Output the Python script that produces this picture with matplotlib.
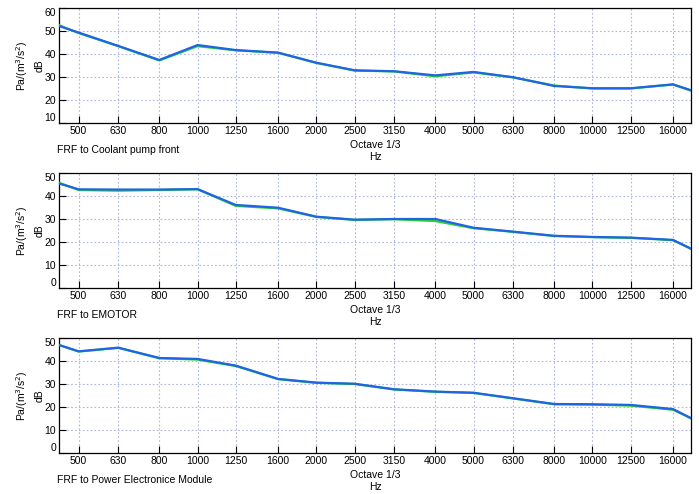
import matplotlib.pyplot as plt
from matplotlib.ticker import FixedLocator, NullLocator

# 1/3 octave bands (nominal) plus the lower/upper band edges of the plotted range
bands = [500, 630, 800, 1000, 1250, 1600, 2000, 2500, 3150, 4000, 5000,
         6300, 8000, 10000, 12500, 16000]
freq = [445] + bands + [17800]
band_labels = [str(b) for b in bands]

titles = ['FRF to Coolant pump front', 'FRF to EMOTOR', 'FRF to Power Electronice Module']

# blue = first curve, green = second curve (dB)
coolant_blue = [52.2, 49.3, 43.5, 37.4, 43.9, 41.7, 40.6, 36.2, 32.9, 32.5, 30.7,
                32.2, 29.9, 26.1, 25.1, 25.1, 26.8, 24.2]
coolant_green = [52.6, 49.1, 43.4, 37.2, 43.4, 41.6, 40.5, 36.1, 32.8, 32.4, 30.3,
                 32.0, 29.8, 26.3, 25.0, 25.0, 26.7, 24.0]
emotor_blue = [45.5, 42.9, 42.8, 42.8, 43.0, 36.1, 34.9, 31.0, 29.7, 30.0, 30.0,
               26.2, 24.5, 22.7, 22.2, 21.9, 20.9, 17.0]
emotor_green = [45.8, 42.6, 42.3, 42.6, 42.9, 35.7, 34.6, 30.9, 29.6, 29.9, 29.1,
                26.0, 24.4, 22.6, 22.1, 21.8, 20.8, 17.0]
pem_blue = [47.0, 44.2, 45.8, 41.3, 40.9, 38.0, 32.2, 30.6, 30.1, 27.7, 26.7,
            26.2, 23.8, 21.3, 21.2, 20.9, 19.1, 15.1]
pem_green = [47.0, 44.1, 45.7, 41.2, 40.6, 37.8, 32.1, 30.5, 30.0, 27.6, 26.6,
             26.1, 23.7, 21.2, 21.0, 20.6, 18.8, 15.0]

ylims = [(10, 60), (0, 50), (0, 50)]
yticks = [[10, 20, 30, 40, 50, 60], [0, 10, 20, 30, 40, 50], [0, 10, 20, 30, 40, 50]]
series = [(coolant_blue, coolant_green), (emotor_blue, emotor_green), (pem_blue, pem_green)]

plt.rcParams['font.family'] = ['Liberation Sans', 'DejaVu Sans']
plt.rcParams['font.size'] = 7.5

fig = plt.figure(figsize=(6.99, 4.94), dpi=100)
W, H = 699, 494
left, right = 58.7, 691.3
tops = [8, 173, 338]
ax_h = 115

for i in range(3):
    top = tops[i]
    ax = fig.add_axes([left / W, (H - top - ax_h) / H, (right - left) / W, ax_h / H])
    blue, green = series[i]
    ax.plot(freq, green, color='#2ad42a', lw=1.6, zorder=3)
    ax.plot(freq, blue, color='#1f63e6', lw=1.6, zorder=4)

    ax.set_xscale('log')
    ax.set_xlim(freq[0], freq[-1])
    ax.xaxis.set_major_locator(FixedLocator(bands))
    ax.xaxis.set_minor_locator(NullLocator())
    ax.set_xticklabels(band_labels)
    ax.set_ylim(*ylims[i])
    ax.set_yticks(yticks[i])

    ax.grid(True, which='major', linestyle=(0, (1.5, 2)), color='#aeb5e0', lw=0.8)
    ax.set_axisbelow(True)
    ax.tick_params(direction='in', length=5, width=0.8, pad=2, labelsize=7.5)
    for s in ax.spines.values():
        s.set_linewidth(0.9)

    # end tick labels sit inside the axis span
    ylabs = ax.get_yticklabels()
    ylabs[0].set_verticalalignment('bottom')
    ylabs[-1].set_verticalalignment('top')

    ax.set_xlabel('Octave 1/3\nHz', fontsize=7.5, labelpad=3, linespacing=1.25)
    ax.set_ylabel('Pa/(m$^3$/s$^2$)\ndB', fontsize=7.5, linespacing=1.5)
    ax.yaxis.set_label_coords(-0.023, 0.5)
    ax.text(-0.003, -0.235, titles[i], transform=ax.transAxes, ha='left', va='center',
            fontsize=7.5)

fig.savefig('out.png', dpi=100)
